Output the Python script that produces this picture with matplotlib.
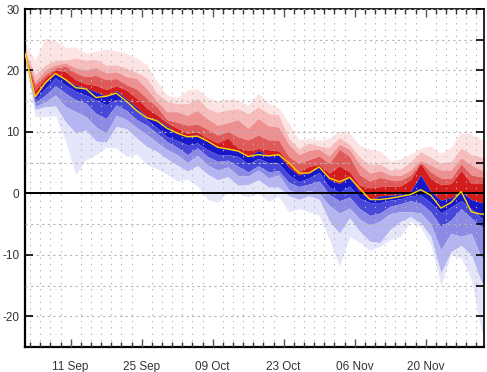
import pandas as pd
import matplotlib
matplotlib.use("Agg")
from matplotlib import pyplot as plt
import matplotlib.dates as mdates
from matplotlib.ticker import MultipleLocator

plt.rcParams['font.family'] = ['Liberation Sans', 'DejaVu Sans']
plt.rcParams['axes.unicode_minus'] = False

# one value every 2 days, starting 02 Sep
dates = pd.date_range("2023-09-02", periods=47, freq="2D")

# band edges, top (max) to bottom (min)
r5 = [24.5, 21.7, 25.3, 24.8, 23.8, 23.8, 22.8, 23.1, 23.5, 23.2, 22.8, 22.0, 21.0, 18.2, 16.0, 15.6,
      16.8, 17.0, 15.6, 15.0, 15.4, 15.2, 14.4, 16.3, 14.7, 13.9, 11.5, 8.7, 9.0, 8.6, 9.0, 10.2,
      9.8, 7.8, 7.2, 6.9, 5.3, 5.6, 6.4, 7.4, 7.7, 6.5, 7.5, 9.9, 9.6, 8.8, 8.6]
r4 = [23.4, 19.3, 20.9, 21.7, 21.7, 22.0, 21.7, 21.8, 20.9, 20.9, 20.4, 19.7, 18.8, 16.3, 15.0, 14.6,
      14.6, 15.5, 13.8, 13.2, 13.6, 13.8, 13.0, 14.1, 13.0, 12.8, 9.0, 7.3, 8.2, 7.7, 7.5, 9.1,
      8.0, 5.9, 4.7, 4.8, 3.8, 4.0, 5.1, 6.8, 5.9, 4.9, 5.2, 7.4, 6.3, 5.9, 5.8]
r3 = [23.0, 18.2, 20.1, 20.9, 21.2, 20.4, 20.1, 20.5, 19.6, 19.8, 19.0, 18.7, 17.0, 15.0, 13.3, 13.3,
      12.7, 13.5, 12.1, 11.1, 11.5, 12.0, 10.6, 12.2, 11.0, 10.8, 8.0, 6.3, 7.0, 7.2, 6.1, 8.0,
      7.2, 4.7, 3.3, 3.7, 3.0, 2.9, 3.8, 5.4, 4.6, 3.8, 3.8, 5.8, 4.6, 3.8, 3.8]
r2 = [22.8, 17.7, 19.3, 20.4, 20.7, 19.6, 19.0, 19.2, 18.5, 18.7, 17.7, 17.0, 15.5, 14.1, 12.0, 11.6,
      11.1, 11.3, 10.4, 9.5, 10.1, 9.2, 8.7, 9.5, 8.7, 8.7, 6.0, 4.9, 5.5, 6.1, 4.9, 7.2,
      6.0, 3.0, 2.0, 2.6, 2.2, 2.1, 3.0, 5.1, 3.5, 2.5, 2.4, 4.8, 3.0, 2.7, 2.7]
r1 = [22.7, 16.8, 18.8, 20.1, 19.8, 18.5, 17.8, 17.6, 16.9, 17.5, 16.8, 15.5, 13.9, 12.8, 11.5, 10.6,
      9.8, 10.0, 9.0, 8.2, 9.0, 7.4, 7.0, 7.3, 7.1, 6.9, 5.2, 3.5, 4.4, 4.7, 3.3, 4.5,
      3.5, 1.3, 0.9, 1.1, 1.2, 1.2, 2.2, 4.9, 2.4, 1.4, 1.6, 3.7, 1.6, 1.6, 1.8]
mid = [22.6, 15.7, 18.0, 19.6, 18.5, 17.6, 17.2, 16.5, 15.8, 16.7, 15.4, 14.0, 12.5, 12.0, 11.0, 9.8,
       9.4, 9.5, 8.5, 7.5, 7.4, 6.9, 6.0, 7.0, 6.1, 6.3, 4.3, 3.0, 3.5, 4.4, 2.3, 1.6,
       2.7, 0.3, -1.0, -0.4, -0.3, -0.1, 0.3, 3.0, 0.3, -1.1, -0.7, 0.3, -1.0, -1.5, -1.2]
b1 = [22.4, 15.2, 17.1, 18.8, 17.6, 16.6, 16.0, 15.2, 14.4, 15.3, 14.9, 13.4, 12.0, 10.7, 9.2, 8.6,
      7.9, 8.2, 7.1, 6.3, 6.3, 6.0, 4.8, 5.7, 5.0, 4.9, 3.0, 1.9, 2.5, 3.4, 1.0, 0.2,
      1.2, -0.8, -1.5, -1.5, -1.1, -0.9, -0.4, -0.3, -1.5, -3.2, -2.2, -1.2, -2.5, -4.0, -4.2]
b2 = [22.2, 14.7, 16.0, 17.5, 16.3, 15.2, 14.7, 13.0, 12.2, 14.4, 13.5, 12.0, 11.1, 9.8, 8.4, 7.5,
      6.3, 7.4, 6.0, 5.2, 5.4, 4.4, 3.5, 4.5, 3.5, 3.7, 1.8, 1.1, 1.5, 2.0, -0.2, -1.2,
      -0.6, -2.5, -3.6, -3.2, -2.1, -1.7, -1.2, -1.6, -3.0, -5.4, -4.3, -2.5, -4.0, -5.4, -5.5]
b3 = [22.0, 14.1, 14.9, 16.0, 14.1, 13.3, 12.5, 10.8, 9.8, 12.7, 12.0, 10.7, 9.6, 8.3, 7.1, 6.3,
      5.0, 6.2, 4.6, 3.8, 4.3, 2.9, 2.8, 3.8, 2.5, 3.0, 0.6, 0.0, 0.5, 0.0, -2.0, -3.2,
      -2.4, -4.2, -5.2, -4.5, -3.3, -3.0, -3.0, -3.2, -5.0, -9.2, -6.5, -7.0, -6.5, -10.5, -11.0]
b4 = [21.8, 13.6, 14.1, 14.2, 11.6, 9.8, 10.3, 8.5, 8.3, 10.9, 10.5, 9.0, 7.6, 6.8, 5.6, 4.6,
      3.6, 4.5, 3.1, 2.2, 2.7, 1.3, 1.4, 2.2, 1.0, 1.0, -0.4, -1.0, -0.4, -1.0, -4.5, -6.5,
      -4.0, -6.2, -7.8, -8.0, -5.9, -4.6, -3.8, -4.8, -7.0, -13.0, -9.5, -8.5, -10.0, -14.5, -15.0]
b5 = [21.5, 12.5, 12.5, 12.6, 8.5, 3.0, 5.5, 6.3, 7.5, 7.4, 6.0, 6.4, 4.7, 4.0, 3.1, 2.0,
      2.3, 1.2, -1.0, -1.5, 0.3, 0.0, -0.6, 0.0, -1.3, -0.5, -3.0, -2.5, -3.0, -3.5, -7.5, -11.8,
      -7.0, -8.0, -9.3, -8.6, -7.5, -7.0, -4.5, -5.5, -8.3, -15.0, -10.0, -10.5, -14.0, -22.5, -24.0]
# yellow line
yellow = [22.8, 15.7, 18.0, 19.5, 18.5, 17.2, 17.0, 15.6, 15.8, 16.3, 15.0, 13.5, 12.3, 11.8, 10.6, 9.8,
          9.2, 9.3, 8.5, 7.5, 7.2, 6.9, 6.0, 6.3, 6.1, 6.3, 5.0, 3.3, 3.3, 4.3, 2.5, 1.9,
          2.6, 0.8, -1.0, -1.0, -0.8, -0.5, -0.2, 0.6, -0.3, -2.4, -1.5, 0.3, -3.0, -3.4, -3.2]

edges = [r5, r4, r3, r2, r1, mid, b1, b2, b3, b4, b5]
colors = ['#fde4e4', '#f7bdbd', '#ee9090', '#e05a5a', '#d41c1c',
          '#1818c8', '#4747d9', '#8b8be6', '#b5b5f1', '#e6e6fa']

fig = plt.figure(figsize=(4.87, 3.72), dpi=100)
ax = fig.add_axes([25/487, 1-347/372, 459/487, 338/372])

for i in range(len(colors)):
    ax.fill_between(dates, edges[i], edges[i+1], color=colors[i], lw=0, zorder=1)

ax.axhline(0, color='black', lw=1.4, zorder=3)
ax.plot(dates, yellow, color='#ffd400', lw=1.0, zorder=4)

ax.set_ylim(-25, 30)
ax.set_xlim(pd.Timestamp("2023-09-02"), pd.Timestamp("2023-12-01 12:00"))

major_days = pd.to_datetime(["2023-09-11", "2023-09-25", "2023-10-09",
                             "2023-10-23", "2023-11-06", "2023-11-20"])
ax.set_xticks(major_days)
ax.xaxis.set_major_formatter(mdates.DateFormatter('%d %b'))
minor_days = pd.date_range("2023-09-03", "2023-12-01", freq="2D")
ax.set_xticks(minor_days, minor=True)

ax.yaxis.set_major_locator(MultipleLocator(10))
ax.yaxis.set_minor_locator(MultipleLocator(5))

ax.tick_params(axis='x', which='major', direction='in', top=True, bottom=True,
               length=6, width=1, pad=10, labelsize=8.5, labelcolor='#333333', color='#555555')
ax.tick_params(axis='x', which='minor', direction='in', top=True, bottom=True,
               length=3.5, width=1, color='#333333')
ax.tick_params(axis='y', which='major', direction='in', left=True, right=True,
               length=6, width=1.2, pad=4, labelsize=8.5, labelcolor='#333333')
ax.tick_params(axis='y', which='minor', direction='in', left=False, right=True,
               length=6, width=1.2)

ax.grid(True, axis='x', which='minor', color='#b4b4b4', lw=0.8, linestyle=(0, (1.2, 4.5)))
ax.grid(True, axis='y', which='both', color='#b4b4b4', lw=0.8, linestyle=(0, (2, 3)))
ax.set_axisbelow(False)

for side in ['left', 'bottom']:
    ax.spines[side].set_linewidth(1.6)
for side in ['top', 'right']:
    ax.spines[side].set_linewidth(1.2)

fig.savefig("out.png", dpi=100)
